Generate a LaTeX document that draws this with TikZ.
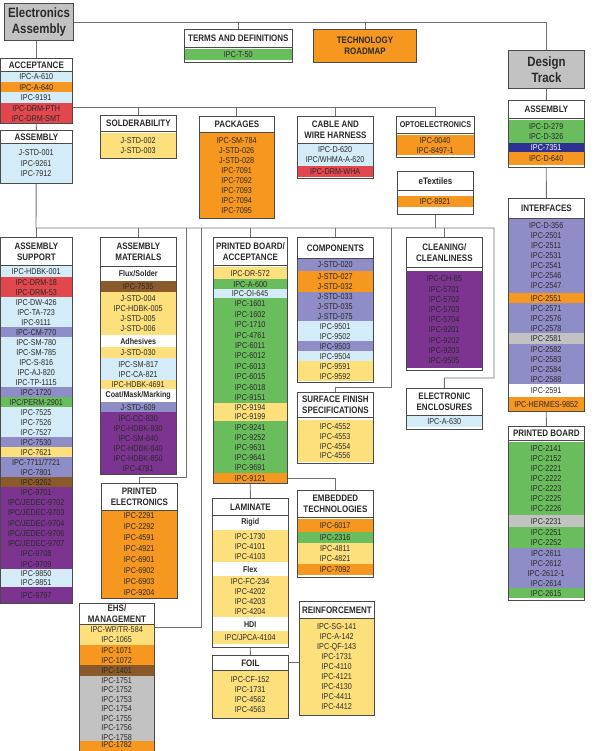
\documentclass[tikz,border=0pt]{standalone}
\usepackage{fontspec}
\setmainfont{Liberation Sans}[FakeStretch=0.85]
\usepackage{xcolor}
\usepackage{tikz}
\definecolor{lblue}{HTML}{D3ECF8}
\definecolor{iorange}{HTML}{F6971F}
\definecolor{ired}{HTML}{E2474E}
\definecolor{igreen}{HTML}{6ABD5C}
\definecolor{iyellow}{HTML}{FDE07C}
\definecolor{lavender}{HTML}{8F8DC7}
\definecolor{plum}{HTML}{7D3390}
\definecolor{ibrown}{HTML}{8A5A2B}
\definecolor{igrey}{HTML}{C2C2C2}
\definecolor{navy}{HTML}{2E3192}
\definecolor{edge}{HTML}{4A4A4A}
\definecolor{wire}{HTML}{707070}
\definecolor{ink}{HTML}{2A2A2A}
\newcommand{\rowfont}{\fontsize{8.5}{10}\selectfont}
\newcommand{\subfont}{\fontsize{8.4}{10}\selectfont\bfseries}
\newcommand{\hdrfont}{\fontsize{9.4}{11}\selectfont\bfseries}
\newcommand{\titlefont}{\fontsize{13.5}{16}\selectfont\bfseries}
% box = white background + header: name, x1, y1, x2, y2, header bottom, title
\newcommand{\stdbox}[7]{%
  \node[boxbg,minimum width={#4pt-#2pt},minimum height={#5pt-#3pt}] (#1-box) at (#2,#3) {};
  \node[hdr,minimum width={#4pt-#2pt},minimum height={#6pt-#3pt}] (#1) at (#2,#3) {#7};}
% coloured row band: [opts] name, fill, x1, y1, x2, y2, text
\newcommand{\stdrow}[8][]{%
  \node[rowbox,fill=#3,minimum width={#6pt-#4pt},minimum height={#7pt-#5pt},#1] (#2) at (#4,#5) {#8};}

\begin{document}
\begin{tikzpicture}[
  x=1pt,y=-1pt,
  boxbg/.style={anchor=north west,inner sep=0pt,fill=white},
  hdr/.style={anchor=north west,inner sep=0pt,draw=edge,line width=0.8pt,fill=white,align=center,font=\hdrfont,text=ink},
  rowbox/.style={anchor=north west,inner sep=0pt,align=center,font=\rowfont,text=ink},
  rowpitch/.style={font={\fontsize{8.5}{#1}\selectfont}},
  subhead/.style={fill=white,font=\subfont},
  titlebox/.style={anchor=north west,inner sep=0pt,draw=edge,line width=1pt,fill=igrey,align=center,font=\titlefont,text=ink},
  frame/.style={draw=edge,line width=0.7pt},
  link/.style={draw=wire,line width=0.9pt}
]
\useasboundingbox (0,0) rectangle (596,751);

% top level
\node[titlebox,minimum width=69pt,minimum height=37pt] (ea) at (4,3) {Electronics\\Assembly};
\node[titlebox,minimum width=76pt,minimum height=38pt] (dt) at (508,50) {Design\\Track};
\node[titlebox,fill=iorange,font=\hdrfont,minimum width=103pt,minimum height=33pt] (road) at (313,29) {TECHNOLOGY\\ROADMAP};

\stdbox{terms}{184}{29}{292}{62}{47}{TERMS AND DEFINITIONS}
\stdrow{terms1}{igreen}{184}{49}{292}{60}{IPC-T-50}

% acceptance / assembly
\stdbox{acc}{0}{58}{72}{123}{71}{ACCEPTANCE}
\stdrow{acc1}{lblue}{0}{71}{72}{82}{IPC-A-610}
\stdrow{acc2}{iorange}{0}{82}{72}{92}{IPC-A-640}
\stdrow{acc3}{lblue}{0}{92}{72}{103}{IPC-9191}
\stdrow{acc4}{ired}{0}{103}{72}{123}{IPC-DRM-PTH\\IPC-DRM-SMT}

\stdbox{asm}{0}{130}{72}{183}{143}{ASSEMBLY}
\stdrow[rowpitch=10.5]{asm1}{lblue}{0}{143}{72}{183}{J-STD-001\\IPC-9261\\IPC-7912}

\stdbox{sold}{100}{115}{176}{158}{131}{SOLDERABILITY}
\stdrow{sold1}{iyellow}{100}{133}{176}{158}{J-STD-002\\J-STD-003}

\stdbox{pack}{199}{116}{274}{218}{132}{PACKAGES}
\stdrow{pack1}{iorange}{199}{132}{274}{218}{IPC-SM-784\\J-STD-026\\J-STD-028\\IPC-7091\\IPC-7092\\IPC-7093\\IPC-7094\\IPC-7095}

\stdbox{cable}{297}{116}{373}{178}{143}{CABLE AND\\WIRE HARNESS}
\stdrow{cable1}{lblue}{297}{143}{373}{166}{IPC-D-620\\IPC/WHMA-A-620}
\stdrow{cable2}{ired}{297}{166}{373}{177}{IPC-DRM-WHA}

\stdbox{opto}{396}{116}{474}{157}{133}{{\fontsize{8.4}{10}\selectfont OPTOELECTRONICS}}
\stdrow{opto1}{iorange}{396}{135}{474}{155}{IPC-0040\\IPC-8497-1}

\stdbox{etex}{397}{171}{473}{214}{190}{eTextiles}
\stdrow{etex1}{iorange}{397}{196}{473}{207}{IPC-8921}

% design track
\stdbox{dasm}{508}{100}{584}{167}{118}{ASSEMBLY}
\stdrow{dasm1}{igreen}{508}{120}{584}{143}{IPC-D-279\\IPC-D-326}
\stdrow[text=white]{dasm2}{navy}{508}{143}{584}{152}{IPC-7351}
\stdrow{dasm3}{iorange}{508}{152}{584}{165}{IPC-D-640}

\stdbox{intf}{508}{198}{584}{411}{218}{INTERFACES}
\stdrow{intf1}{lavender}{508}{218}{584}{293}{IPC-D-356\\IPC-2501\\IPC-2511\\IPC-2531\\IPC-2541\\IPC-2546\\IPC-2547}
\stdrow{intf2}{iorange}{508}{293}{584}{303}{IPC-2551}
\stdrow{intf3}{lavender}{508}{303}{584}{333}{IPC-2571\\IPC-2576\\IPC-2578}
\stdrow{intf4}{igrey}{508}{333}{584}{344}{IPC-2581}
\stdrow{intf5}{lavender}{508}{344}{584}{384}{IPC-2582\\IPC-2583\\IPC-2584\\IPC-2588}
\stdrow{intf6}{white}{508}{384}{584}{397}{IPC-2591}
\stdrow{intf7}{iorange}{508}{397}{584}{411}{IPC-HERMES-9852}

\stdbox{dpb}{508}{426}{584}{600}{440}{PRINTED BOARD}
\stdrow{dpb1}{igreen}{508}{442}{584}{515}{IPC-2141\\IPC-2152\\IPC-2221\\IPC-2222\\IPC-2223\\IPC-2225\\IPC-2226}
\stdrow{dpb2}{igrey}{508}{515}{584}{527}{IPC-2231}
\stdrow{dpb3}{igreen}{508}{527}{584}{548}{IPC-2251\\IPC-2252}
\stdrow{dpb4}{lavender}{508}{548}{584}{588}{IPC-2611\\IPC-2612\\IPC-2612-1\\IPC-2614}
\stdrow{dpb5}{igreen}{508}{588}{584}{598}{IPC-2615}

% second row of boxes
\stdbox{asup}{0}{237}{72}{603}{265}{ASSEMBLY\\SUPPORT}
\stdrow{asup1}{lblue}{0}{265}{72}{277}{IPC-HDBK-001}
\stdrow{asup2}{ired}{0}{277}{72}{297}{IPC-DRM-18\\IPC-DRM-53}
\stdrow{asup3}{lblue}{0}{297}{72}{327}{IPC-DW-426\\IPC-TA-723\\IPC-9111}
\stdrow{asup4}{lavender}{0}{327}{72}{337}{IPC-CM-770}
\stdrow{asup5}{lblue}{0}{337}{72}{387}{IPC-SM-780\\IPC-SM-785\\IPC-S-816\\IPC-AJ-820\\IPC-TP-1115}
\stdrow{asup6}{lavender}{0}{387}{72}{397}{IPC-1720}
\stdrow{asup7}{igreen}{0}{397}{72}{407}{IPC/PERM-2901}
\stdrow{asup8}{lblue}{0}{407}{72}{437}{IPC-7525\\IPC-7526\\IPC-7527}
\stdrow{asup9}{lavender}{0}{437}{72}{447}{IPC-7530}
\stdrow{asup10}{iyellow}{0}{447}{72}{457}{IPC-7621}
\stdrow{asup11}{lavender}{0}{457}{72}{477}{IPC-7711/7721\\IPC-7801}
\stdrow{asup12}{ibrown}{0}{477}{72}{487}{IPC-9262}
\stdrow[rowpitch=10.25]{asup13}{plum}{0}{487}{72}{569}{IPC-9701\\IPC/JEDEC-9702\\IPC/JEDEC-9703\\IPC/JEDEC-9704\\IPC/JEDEC-9706\\IPC/JEDEC-9707\\IPC-9708\\IPC-9709}
\stdrow[rowpitch=9.5]{asup14}{lblue}{0}{569}{72}{587}{IPC-9850\\IPC-9851}
\stdrow{asup15}{plum}{0}{587}{72}{603}{IPC-9797}

\stdbox{amat}{100}{237}{176}{474}{266}{ASSEMBLY\\MATERIALS}
\stdrow[subhead]{amat1}{white}{100}{266}{176}{281}{Flux/Solder}
\stdrow{amat2}{ibrown}{100}{281}{176}{292}{IPC-7535}
\stdrow{amat3}{iyellow}{100}{292}{176}{335}{J-STD-004\\IPC-HDBK-005\\J-STD-005\\J-STD-006}
\stdrow[subhead]{amat4}{white}{100}{335}{176}{347}{Adhesives}
\stdrow{amat5}{iyellow}{100}{347}{176}{358}{J-STD-030}
\stdrow{amat6}{lblue}{100}{358}{176}{380}{IPC-SM-817\\IPC-CA-821}
\stdrow{amat7}{iyellow}{100}{380}{176}{389}{IPC-HDBK-4691}
\stdrow[subhead]{amat8}{white}{100}{389}{176}{402}{Coat/Mask/Marking}
\stdrow{amat9}{lavender}{100}{402}{176}{412}{J-STD-609}
\stdrow{amat10}{plum}{100}{412}{176}{474}{IPC-CC-830\\IPC-HDBK-830\\IPC-SM-840\\IPC-HDBK-840\\IPC-HDBK-850\\IPC-4781}

\stdbox{pel}{101}{483}{177}{598}{510}{PRINTED\\ELECTRONICS}
\stdrow[rowpitch=11]{pel1}{iorange}{101}{510}{177}{598}{IPC-2291\\IPC-2292\\IPC-4591\\IPC-4921\\IPC-6901\\IPC-6902\\IPC-6903\\IPC-9204}

\stdbox{ehs}{79}{603}{154}{760}{624}{EHS/\\MANAGEMENT}
\stdrow{ehs1}{iyellow}{79}{624}{154}{645}{IPC-WP/TR-584\\IPC-1065}
\stdrow{ehs2}{iorange}{79}{645}{154}{665}{IPC-1071\\IPC-1072}
\stdrow{ehs3}{ibrown}{79}{665}{154}{676}{IPC-1401}
\stdrow[rowpitch=9.5]{ehs4}{igrey}{79}{676}{154}{741}{IPC-1751\\IPC-1752\\IPC-1753\\IPC-1754\\IPC-1755\\IPC-1756\\IPC-1758}
\stdrow{ehs5}{iorange}{79}{741}{154}{760}{IPC-1782\\[6pt]}

\stdbox{pba}{213}{237}{287}{483}{265}{PRINTED BOARD/\\ACCEPTANCE}
\stdrow{pba1}{iyellow}{213}{267}{287}{279}{IPC-DR-572}
\stdrow{pba2}{igreen}{213}{279}{287}{289}{IPC-A-600}
\stdrow{pba3}{lblue}{213}{289}{287}{298}{IPC-OI-645}
\stdrow[rowpitch=10.4]{pba4}{igreen}{213}{298}{287}{403}{IPC-1601\\IPC-1602\\IPC-1710\\IPC-4761\\IPC-6011\\IPC-6012\\IPC-6013\\IPC-6015\\IPC-6018\\IPC-9151}
\stdrow[rowpitch=9.5]{pba5}{iyellow}{213}{403}{287}{421}{IPC-9194\\IPC-9199}
\stdrow{pba6}{igreen}{213}{421}{287}{473}{IPC-9241\\IPC-9252\\IPC-9631\\IPC-9641\\IPC-9691}
\stdrow{pba7}{iorange}{213}{473}{287}{483}{IPC-9121}

\stdbox{lam}{212}{498}{288}{647}{515}{LAMINATE}
\stdrow[subhead]{lam1}{white}{212}{515}{288}{530}{Rigid}
\stdrow{lam2}{iyellow}{212}{530}{288}{562}{IPC-1730\\IPC-4101\\IPC-4103}
\stdrow[subhead]{lam3}{white}{212}{562}{288}{576}{Flex}
\stdrow{lam4}{iyellow}{212}{576}{288}{617}{IPC-FC-234\\IPC-4202\\IPC-4203\\IPC-4204}
\stdrow[subhead]{lam5}{white}{212}{617}{288}{631}{HDI}
\stdrow{lam6}{iyellow}{212}{631}{288}{644}{IPC/JPCA-4104}

\stdbox{foil}{212}{655}{288}{718}{670}{FOIL}
\stdrow{foil1}{iyellow}{212}{670}{288}{718}{IPC-CF-152\\IPC-1731\\IPC-4562\\IPC-4563}

\stdbox{reinf}{299}{601}{374}{715}{618}{REINFORCEMENT}
\stdrow{reinf1}{iyellow}{299}{618}{374}{715}{IPC-SG-141\\IPC-A-142\\IPC-QF-143\\IPC-1731\\IPC-4110\\IPC-4121\\IPC-4130\\IPC-4411\\IPC-4412}

\stdbox{emb}{297}{490}{373}{577}{517}{EMBEDDED\\TECHNOLOGIES}
\stdrow{emb1}{iorange}{297}{519}{373}{532}{IPC-6017}
\stdrow{emb2}{igreen}{297}{532}{373}{543}{IPC-2316}
\stdrow{emb3}{iyellow}{297}{543}{373}{564}{IPC-4811\\IPC-4821}
\stdrow{emb4}{iorange}{297}{564}{373}{575}{IPC-7092}

\stdbox{comp}{297}{237}{373}{382}{258}{COMPONENTS}
\stdrow{comp1}{lavender}{297}{258}{373}{271}{J-STD-020}
\stdrow{comp2}{iorange}{297}{271}{373}{292}{J-STD-027\\J-STD-032}
\stdrow{comp3}{lavender}{297}{292}{373}{321}{J-STD-033\\J-STD-035\\J-STD-075}
\stdrow{comp4}{lblue}{297}{321}{373}{341}{IPC-9501\\IPC-9502}
\stdrow{comp5}{lavender}{297}{341}{373}{351}{IPC-9503}
\stdrow{comp6}{lblue}{297}{351}{373}{361}{IPC-9504}
\stdrow{comp7}{iyellow}{297}{361}{373}{381}{IPC-9591\\IPC-9592}

\stdbox{surf}{297}{392}{373}{463}{417}{SURFACE FINISH\\SPECIFICATIONS}
\stdrow[rowpitch=9.8]{surf1}{iyellow}{297}{420}{373}{462}{IPC-4552\\IPC-4553\\IPC-4554\\IPC-4556}

\stdbox{clean}{406}{237}{482}{370}{267}{CLEANING/\\CLEANLINESS}
\stdrow[rowpitch=10.2]{clean1}{plum}{406}{271}{482}{368}{IPC-CH-65\\IPC-5701\\IPC-5702\\IPC-5703\\IPC-5704\\IPC-9201\\IPC-9202\\IPC-9203\\IPC-9505}

\stdbox{encl}{406}{388}{482}{429}{415}{ELECTRONIC\\ENCLOSURES}
\stdrow{encl1}{lblue}{406}{415}{482}{427}{IPC-A-630}

% connectors
\coordinate (bus1) at (72,107.5);
\coordinate (bus2w) at (36,228);
\coordinate (bus2e) at (494,228);
\coordinate (enclknee) at (494,378);
\coordinate (pelknee) at (186,477);
\coordinate (ehsknee) at (201,627);
\coordinate (sfknee) at (391,387);

\draw[link] (ea.east) -| (dt.north);
\foreach \n in {terms,road} \draw[link] (\n.north) -- (\n.north |- ea.east);
\draw[link] (acc.north) -- (acc.north |- ea.south);
\draw[link] (acc-box.east |- bus1) -- (bus1 -| opto.north) -- (opto.north);
\foreach \n in {sold,pack,cable} \draw[link] (\n.north) -- (\n.north |- bus1);
\draw[link] (acc-box.south) -- (asm.north);
\draw[link] (asm-box.south) -- (bus2w) -- (bus2e) -- (enclknee) -| (encl.north);
\foreach \n in {asup,amat,pba,comp,clean} \draw[link] (\n.north) -- (\n.north |- bus2w);
\draw[link] (etex-box.south) -- (etex-box.south |- bus2w);
\draw[link] (pelknee |- bus2w) -- (pelknee) -| (pel.north);
\draw[link] (ehsknee |- bus2w) -- (ehsknee) -- (ehsknee -| ehs-box.east);
\draw[link] (sfknee |- bus2w) -- (sfknee) -| (surf.north);
\draw[link] (pba-box.south) -- (lam.north);
\draw[link] (lam-box.south) -- (foil.north);
\draw[link] (pba7.east) -| (emb.north);
\draw[link] (foil.east) -- (foil.east -| reinf-box.west);
\draw[link] (dt.south) -- (dasm.north);
\draw[link] (dasm-box.south) -- (intf.north);
\draw[link] (intf-box.south) -- (dpb.north);

% frames on top of the row bands
\foreach \b in {terms,acc,asm,sold,pack,cable,opto,etex,dasm,intf,dpb,asup,amat,pel,ehs,pba,lam,foil,reinf,emb,comp,surf,clean,encl}{
  \draw[frame] (\b-box.north west) rectangle (\b-box.south east);
  \draw[frame] (\b.north west) rectangle (\b.south east);
}
\end{tikzpicture}
\end{document}
